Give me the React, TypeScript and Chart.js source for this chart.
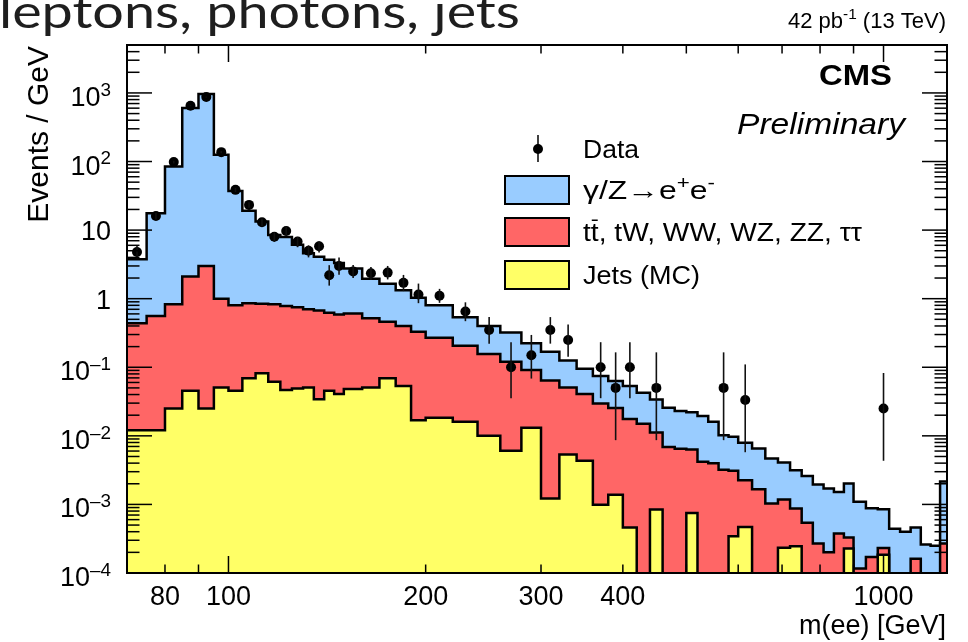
import React, { useEffect, useRef } from "react";
import { Chart, registerables } from "chart.js";

Chart.register(...registerables);

// ---------- data (Events / GeV) ----------
const binEdges = [
  70, 75, 80, 85, 90, 95, 100, 105, 110, 115, 120, 125, 130, 135, 140, 145, 150,
  160, 170, 180, 190, 200,
  220, 240, 260, 280, 300, 320, 340, 360, 380, 400, 420, 440, 460, 480, 500, 520, 540, 560, 580, 600,
  630, 660, 690, 720, 750, 780, 810, 840, 870, 900,
  940, 980, 1020, 1060, 1100, 1140, 1180, 1220, 1260,
];

// stacked heights: Jets (MC)
const jetsStackTop = [
  0.0121, 0.0121, 0.0251, 0.0454, 0.0251, 0.0508, 0.0454, 0.0689, 0.0815, 0.0614,
  0.0465, 0.0491, 0.0508, 0.0343, 0.0454, 0.0406, 0.048, 0.0508, 0.0689, 0.0531,
  0.0169, 0.0183, 0.016, 0.01, 0.00604, 0.0131, 0.00122, 0.00535, 0.00432, 0.00099,
  0.00138, 0.00046, 0, 0.00084, 0, 0, 0.00075, 0, 0, 0,
  0.000343, 0.00047, 0, 0, 0.000234, 0.000245, 0, 0, 0, 0,
  0.000227, 0, 0, 0.000185, 0, 0, 0, 0, 0, 0,
];

// stacked heights: Jets + (tt, tW, WW, WZ, ZZ, tautau)
const ttStackTop = [
  0.437, 0.56, 0.83, 2.1, 3.0, 1.0, 0.8, 0.86, 0.845, 0.83,
  0.78, 0.75, 0.7, 0.67, 0.625, 0.59, 0.61, 0.52, 0.46, 0.4,
  0.33, 0.27, 0.206, 0.156, 0.12, 0.091, 0.064, 0.0508, 0.0406, 0.0297,
  0.0255, 0.0176, 0.015, 0.0112, 0.0069, 0.0065, 0.0063, 0.0042, 0.004, 0.0032,
  0.0031, 0.00226, 0.00167, 0.00103, 0.00118, 0.00087, 0.00054, 0.00027, 0.0002, 0.000376,
  0.000329, 0.000116, 0.000171, 0.000232, 0, 0, 0.000162, 0, 0, 0.00027,
];

// stacked heights: total (with gamma/Z -> ee)
const dyStackTop = [
  3.76, 17.6, 84.6, 602, 964, 125, 37.3, 19.1, 13.3, 8.5,
  7.9, 6.1, 4.6, 4.1, 3.7, 3.3, 2.75, 1.95, 1.65, 1.33,
  1.03, 0.8, 0.535, 0.4, 0.32, 0.223, 0.168, 0.125, 0.095, 0.0744,
  0.0629, 0.0532, 0.0425, 0.034, 0.0256, 0.023, 0.022, 0.0194, 0.016, 0.0102,
  0.0097, 0.0079, 0.00654, 0.00468, 0.00409, 0.00315, 0.0026, 0.00195, 0.0017, 0.00152,
  0.00202, 0.00109, 0.00088, 0.00085, 0.00044, 0.0004, 0.00046, 0.00026, 0.00025, 0.00215,
];

const N = null;
const dataValues = [
  4.8, 16.1, 98, 650, 871, 137, 38.6, 23.3, 13.0, 8.0,
  9.7, 6.8, 5.0, 5.8, 2.2, 3.0, 2.5, 2.35, 2.4, 1.7,
  1.15, 1.1, 0.65, 0.35, 0.1, 0.15, 0.35, 0.25, N, 0.1,
  0.05, 0.1, N, 0.05, N, N, N, N, N, 0.05,
  N, 0.0333, N, N, N, N, N, N, N, N,
  N, N, N, 0.025, N, N, N, N, N, N,
];
const dataErrLow = [
  3.9, 14.3, 93.6, 639, 858, 132, 35.8, 21.1, 11.4, 6.74,
  8.3, 5.63, 4.0, 4.72, 1.55, 2.23, 2.0, 1.87, 1.91, 1.29,
  0.86, 0.87, 0.47, 0.221, 0.0354, 0.0684, 0.221, 0.142, N, 0.0354,
  0.00865, 0.0354, N, 0.00865, N, N, N, N, N, 0.00865,
  N, 0.00577, N, N, N, N, N, N, N, N,
  N, N, N, 0.00433, N, N, N, N, N, N,
];
const dataErrHigh = [
  5.9, 17.9, 102.4, 661, 884, 142, 41.4, 25.5, 14.6, 9.28,
  11.1, 7.97, 6.0, 6.88, 3.08, 3.99, 3.1, 2.9, 3.0, 2.22,
  1.66, 1.39, 0.885, 0.539, 0.232, 0.296, 0.539, 0.419, N, 0.232,
  0.165, 0.232, N, 0.165, N, N, N, N, N, 0.165,
  N, 0.11, N, N, N, N, N, N, N, N,
  N, N, N, 0.0825, N, N, N, N, N, N,
];

const xTickLabels = [80, 100, 200, 300, 400, 1000];
const yTickExponents = [-4, -3, -2, -1, 0, 1, 2, 3];

const X_MIN = 70;
const X_MAX = 1250;
const Y_MIN = 1e-4;
const Y_MAX = 5000;
const FLOOR = 1e-7;

const COL_DY = "#99ccff";
const COL_TT = "#ff6666";
const COL_JETS = "#ffff66";

const FONT = '"Liberation Sans", Arial, Helvetica, "DejaVu Sans", sans-serif';

function stepPoints(values: number[]) {
  const pts = values.map((v, i) => ({ x: binEdges[i], y: v > 0 ? v : FLOOR }));
  const last = values[values.length - 1];
  pts.push({ x: binEdges[binEdges.length - 1], y: last > 0 ? last : FLOOR });
  return pts;
}

const binCenters = binEdges.slice(0, -1).map((e, i) => (e + binEdges[i + 1]) / 2);
const dataPoints = dataValues
  .map((v, i) => (v === null ? null : { x: binCenters[i], y: v }))
  .filter((p) => p !== null) as { x: number; y: number }[];

type Seg = { t: string; sup?: boolean; bar?: boolean };

function drawRich(
  ctx: CanvasRenderingContext2D,
  segs: Seg[],
  x: number,
  y: number,
  size: number,
  opts: { align?: "left" | "right" | "center"; sx?: number; width?: number; weight?: string; style?: string; family?: string; color?: string; supScale?: number; supRaise?: number } = {}
) {
  const family = opts.family || FONT;
  const weight = opts.weight || "normal";
  const style = opts.style || "normal";
  const supScale = opts.supScale ?? 0.7;
  const supRaise = opts.supRaise ?? 0.42;
  ctx.save();
  let total = 0;
  const parts = segs.map((s) => {
    const fs = s.sup ? size * supScale : size;
    ctx.font = `${style} ${weight} ${fs}px ${family}`;
    const w = ctx.measureText(s.t).width;
    total += w;
    return { s, fs, w };
  });
  const sx = opts.width ? opts.width / total : opts.sx ?? 1;
  const align = opts.align || "left";
  const startX = align === "right" ? x - total * sx : align === "center" ? x - (total * sx) / 2 : x;
  ctx.translate(startX, y);
  ctx.scale(sx, 1);
  ctx.fillStyle = opts.color || "#000";
  ctx.textAlign = "left";
  ctx.textBaseline = "alphabetic";
  let cx = 0;
  for (const p of parts) {
    ctx.font = `${style} ${weight} ${p.fs}px ${family}`;
    const dy = p.s.sup ? -size * supRaise : 0;
    ctx.fillText(p.s.t, cx, dy);
    if (p.s.bar) {
      ctx.fillRect(cx + p.w * 0.12, -size * 0.86, p.w * 0.76, Math.max(1.2, size * 0.06));
    }
    cx += p.w;
  }
  ctx.restore();
}

const cmsPlugin = {
  id: "cmsDecor",
  beforeDraw(chart: any) {
    const ctx = chart.ctx;
    ctx.save();
    ctx.fillStyle = "#fff";
    ctx.fillRect(0, 0, chart.width, chart.height);
    ctx.restore();
  },
  afterDatasetsDraw(chart: any) {
    const ctx: CanvasRenderingContext2D = chart.ctx;
    const xs = chart.scales.x;
    const ys = chart.scales.y;
    const ca = chart.chartArea;
    ctx.save();
    ctx.beginPath();
    ctx.rect(ca.left, ca.top, ca.right - ca.left, ca.bottom - ca.top);
    ctx.clip();
    ctx.strokeStyle = "#111";
    ctx.lineWidth = 1.6;
    dataValues.forEach((v, i) => {
      if (v === null) return;
      const lo = dataErrLow[i] as number;
      const hi = dataErrHigh[i] as number;
      const px = xs.getPixelForValue(binCenters[i]);
      ctx.beginPath();
      ctx.moveTo(px, ys.getPixelForValue(lo));
      ctx.lineTo(px, ys.getPixelForValue(hi));
      ctx.stroke();
    });
    ctx.restore();
  },
  afterDraw(chart: any) {
    const ctx: CanvasRenderingContext2D = chart.ctx;
    const xs = chart.scales.x;
    const ys = chart.scales.y;
    const ca = chart.chartArea;
    ctx.save();
    // frame
    ctx.strokeStyle = "#000";
    ctx.lineWidth = 2;
    ctx.strokeRect(ca.left, ca.top, ca.right - ca.left, ca.bottom - ca.top);
    ctx.lineWidth = 1.5;
    const seg = (x1: number, y1: number, x2: number, y2: number) => {
      ctx.beginPath();
      ctx.moveTo(x1, y1);
      ctx.lineTo(x2, y2);
      ctx.stroke();
    };
    // y ticks
    for (let e = -4; e <= 3; e++) {
      for (let k = 1; k <= 9; k++) {
        const v = k * Math.pow(10, e);
        if (v < Y_MIN * 0.999 || v > Y_MAX * 1.001) continue;
        const py = ys.getPixelForValue(v);
        const len = k === 1 ? 25 : 12.5;
        seg(ca.left, py, ca.left + len, py);
        seg(ca.right, py, ca.right - len, py);
      }
    }
    // x ticks
    for (let e = 1; e <= 3; e++) {
      for (let k = 1; k <= 9; k++) {
        const v = k * Math.pow(10, e);
        if (v <= X_MIN || v >= X_MAX) continue;
        const px = xs.getPixelForValue(v);
        const len = k === 1 ? 17 : 8.5;
        seg(px, ca.bottom, px, ca.bottom - len);
        seg(px, ca.top, px, ca.top + len);
      }
    }
    // y tick labels
    const LS = 27;
    yTickExponents.forEach((e) => {
      const py = ys.getPixelForValue(Math.pow(10, e));
      if (e === 0) drawRich(ctx, [{ t: "1" }], 111, py + 10, LS, { align: "right" });
      else if (e === 1) drawRich(ctx, [{ t: "10" }], 111, py + 10, LS, { align: "right" });
      else
        drawRich(ctx, [{ t: "10" }, { t: e < 0 ? "\u2013" + -e : String(e), sup: true }], 111, py + 13, LS, {
          align: "right",
          supRaise: 0.38,
        });
    });
    // x tick labels
    xTickLabels.forEach((v) => {
      const px = xs.getPixelForValue(v);
      drawRich(ctx, [{ t: String(v) }], px, 605, LS, { align: "center" });
    });
    // axis titles
    drawRich(ctx, [{ t: "m(ee) [GeV]" }], 946, 634, 27, { align: "right" });
    ctx.save();
    ctx.translate(48, 46);
    ctx.rotate(-Math.PI / 2);
    drawRich(ctx, [{ t: "Events / GeV" }], 0, 0, 30, { align: "right" });
    ctx.restore();

    // CMS labels
    drawRich(ctx, [{ t: "CMS" }], 892, 85, 29, { align: "right", weight: "bold", width: 73 });
    drawRich(ctx, [{ t: "Preliminary" }], 905, 134, 29, { align: "right", style: "italic", width: 168 });
    drawRich(ctx, [{ t: "42 pb" }, { t: "-1", sup: true }, { t: " (13 TeV)" }], 946, 28, 22, { align: "right", width: 158 });

    // legend
    const lx = 583;
    ctx.strokeStyle = "#111";
    ctx.lineWidth = 1.6;
    seg(538, 135, 538, 162);
    ctx.fillStyle = "#000";
    ctx.beginPath();
    ctx.arc(538, 149, 5, 0, Math.PI * 2);
    ctx.fill();
    drawRich(ctx, [{ t: "Data" }], lx, 158, 25, { width: 56 });
    const boxes: [string, number][] = [
      [COL_DY, 176],
      [COL_TT, 218],
      [COL_JETS, 261],
    ];
    ctx.lineWidth = 2;
    ctx.strokeStyle = "#000";
    boxes.forEach(([c, y]) => {
      ctx.fillStyle = c;
      ctx.fillRect(505, y, 64, 28);
      ctx.strokeRect(505, y, 64, 28);
    });
    drawRich(ctx, [{ t: "\u03b3/Z\u2192e" }, { t: "+", sup: true }, { t: "e" }, { t: "-", sup: true }], lx, 199, 25, { width: 132 });
    drawRich(
      ctx,
      [{ t: "t" }, { t: "t", bar: true }, { t: ", tW, WW, WZ, ZZ, \u03c4\u03c4" }],
      lx,
      241,
      25,
      { width: 279 }
    );
    drawRich(ctx, [{ t: "Jets (MC)" }], lx, 284, 25, { width: 117 });

    // page title
    drawRich(ctx, [{ t: "leptons, photons, jets" }], -1, 28, 47, {
      family: 'Lato, "Open Sans", sans-serif',
      width: 521,
      color: "#1e1e1e",
    });
    ctx.restore();
  },
};

export default function App() {
  const ref = useRef<HTMLCanvasElement>(null);
  useEffect(() => {
    const canvas = ref.current as HTMLCanvasElement;
    const histo = (label: string, values: number[], color: string) => ({
      label,
      data: stepPoints(values),
      stepped: "before" as const,
      fill: "start",
      backgroundColor: color,
      borderColor: "#000",
      borderWidth: 2.5,
      borderJoinStyle: "miter" as const,
      pointRadius: 0,
      pointHoverRadius: 0,
      tension: 0,
    });
    const chart = new Chart(canvas, {
      type: "line",
      data: {
        datasets: [
          {
            label: "Data",
            data: dataPoints,
            showLine: false,
            pointRadius: 5,
            pointBackgroundColor: "#000",
            pointBorderWidth: 0,
            borderColor: "#000",
            backgroundColor: "#000",
          } as any,
          histo("Jets (MC)", jetsStackTop, COL_JETS),
          histo("tt, tW, WW, WZ, ZZ, tautau", ttStackTop, COL_TT),
          histo("gamma/Z -> ee", dyStackTop, COL_DY),
        ],
      },
      options: {
        animation: false,
        responsive: false,
        devicePixelRatio: 1,
        layout: { padding: { left: 127, right: 21, top: 45, bottom: 69 } },
        plugins: { legend: { display: false }, tooltip: { enabled: false } },
        events: [],
        scales: {
          x: { type: "logarithmic", min: X_MIN, max: X_MAX, display: false },
          y: { type: "logarithmic", min: Y_MIN, max: Y_MAX, display: false },
        },
      } as any,
      plugins: [cmsPlugin],
    });
    return () => chart.destroy();
  }, []);
  return (
    <div style={{ position: "absolute", left: 0, top: 0, width: 968, height: 642, background: "#fff" }}>
      <canvas ref={ref} width={968} height={642} style={{ display: "block", width: 968, height: 642 }} />
    </div>
  );
}
